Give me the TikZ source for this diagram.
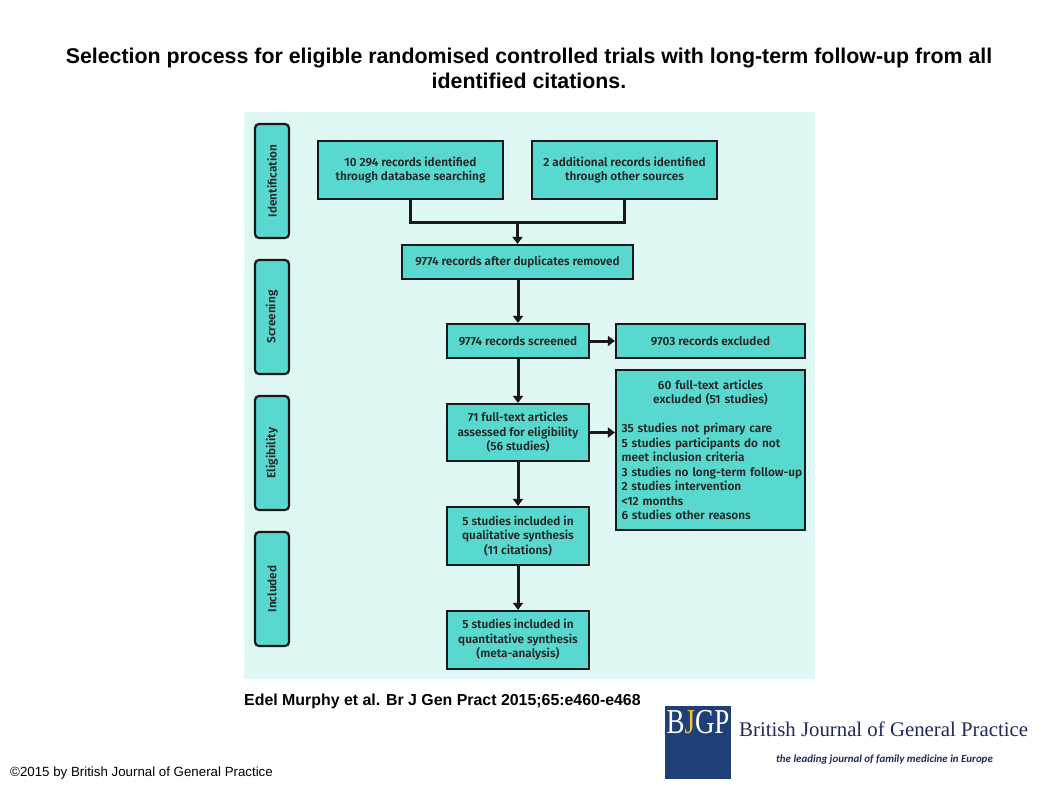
\documentclass[tikz,border=0pt]{standalone}
\usepackage{graphicx}
\usepackage{fontspec}
\setmainfont{Liberation Sans}
\newfontfamily\boxfont{Fira Sans}[UprightFont=* Medium,BoldFont=* SemiBold]
\newfontfamily\logoserif{Liberation Serif}
\newfontfamily\logosans{Carlito}
\usetikzlibrary{arrows.meta}
\definecolor{panelc}{HTML}{DFF7F5}
\definecolor{boxc}{HTML}{58D8CE}
\definecolor{logoblue}{HTML}{1F3F77}
\definecolor{logoink}{HTML}{20295C}
\definecolor{logoj}{HTML}{F0C040}
\tikzset{
 x=1pt,y=-1pt,
 boxbase/.style={draw=black!90,fill=boxc,line width=2.2pt,inner sep=0pt,font=\boxfont\bfseries\fontsize{11.8}{14.5}\selectfont,text=black!85,align=center},
 flowbox/.style={boxbase,minimum width=#1},
 stagebox/.style={boxbase,rounded corners=4pt,minimum width=114pt,minimum height=34pt,rotate=90},
 link/.style={line width=3pt,draw=black!90},
 arrowlink/.style={link,-{Triangle[length=7pt,width=10pt]}},
 titletext/.style={font=\bfseries\fontsize{21.35}{24.3}\selectfont,align=center,inner sep=0pt},
}
\begin{document}
\begin{tikzpicture}
\useasboundingbox (0,0) rectangle (1058,793);
\fill[white] (0,0) rectangle (1058,793);
\node[titletext] (title) at (529,68.3) {Selection process for eligible randomised controlled trials with long-term follow-up from all\\identified citations.};
\fill[panelc] (244,112) rectangle (815,679);
% stages
\node[stagebox] (s1) at (272,181) {Identification};
\node[stagebox] (s2) at (272,317) {Screening};
\node[stagebox] (s3) at (272,453) {Eligibility};
\node[stagebox] (s4) at (272,589) {Included};
% flow boxes
\node[flowbox=185pt,minimum height=58pt] (a) at (410.5,170) {10 294 records identified\\through database searching};
\node[flowbox=185pt,minimum height=58pt] (b) at (624.5,170) {2 additional records identified\\through other sources};
\node[flowbox=231pt,minimum height=34pt] (c) at (517.5,262) {9774 records after duplicates removed};
\node[flowbox=142pt,minimum height=34pt] (d) at (518,341) {9774 records screened};
\node[flowbox=189pt,minimum height=34pt] (e) at (710.5,341) {9703 records excluded};
\node[flowbox=142pt,minimum height=57pt] (f) at (518,432.5) {71 full-text articles\\assessed for eligibility\\(56 studies)};
\node[boxbase,text width=178pt,minimum height=160pt,inner xsep=5.5pt,align=left] (g) at (710.5,450) {\makebox[\linewidth][c]{60 full-text articles}\\\makebox[\linewidth][c]{excluded (51 studies)}\\[14.4pt]35 studies not primary care\\5 studies participants do not\\meet inclusion criteria\\\makebox[\linewidth][l]{3 studies no long-term follow-up}\\2 studies intervention\\<12 months\\6 studies other reasons};
\node[flowbox=142pt,minimum height=58pt] (h) at (518,536) {5 studies included in\\qualitative synthesis\\(11 citations)};
\node[flowbox=142pt,minimum height=58pt] (i) at (518,640) {5 studies included in\\quantitative synthesis\\(meta-analysis)};
% connectors
\coordinate (j) at (517.5,222);
\draw[link] (a.south) |- (j);
\draw[link] (b.south) |- (j);
\draw[arrowlink] (j) -- (c.north);
\draw[arrowlink] (c.south -| d.north) -- (d.north);
\draw[arrowlink] (d.east) -- (e.west);
\draw[arrowlink] (d.south) -- (f.north);
\draw[arrowlink] (f.east) -- (f.east -| g.west);
\draw[arrowlink] (f.south) -- (h.north);
\draw[arrowlink] (h.south) -- (i.north);
% captions
\node[anchor=west,inner sep=0pt,font=\bfseries\fontsize{15.9}{18}\selectfont] (cite) at (244,701) {Edel Murphy et al. Br J Gen Pract 2015;65:e460-e468};
\node[anchor=west,inner sep=0pt,font=\fontsize{13.3}{15}\selectfont] (copy) at (10,773.5) {©2015 by British Journal of General Practice};
% logo
\fill[logoblue] (665,706) rectangle (731,779);
\node[anchor=center,inner sep=0pt,text=white,font=\logoserif\fontsize{35}{35}\selectfont] (bjgp) at (698,722) {\scalebox{0.77}[1]{B\textcolor{logoj}{J}GP}};
\node[anchor=west,inner sep=0pt,text=logoink,font=\logoserif\fontsize{20.8}{24}\selectfont] (journal) at (739,729) {British Journal of General Practice};
\node[anchor=west,inner sep=0pt,text=logoink,font=\logosans\bfseries\itshape\fontsize{10.9}{13}\selectfont] (tag) at (776,760) {the leading journal of family medicine in Europe};
\end{tikzpicture}
\end{document}
